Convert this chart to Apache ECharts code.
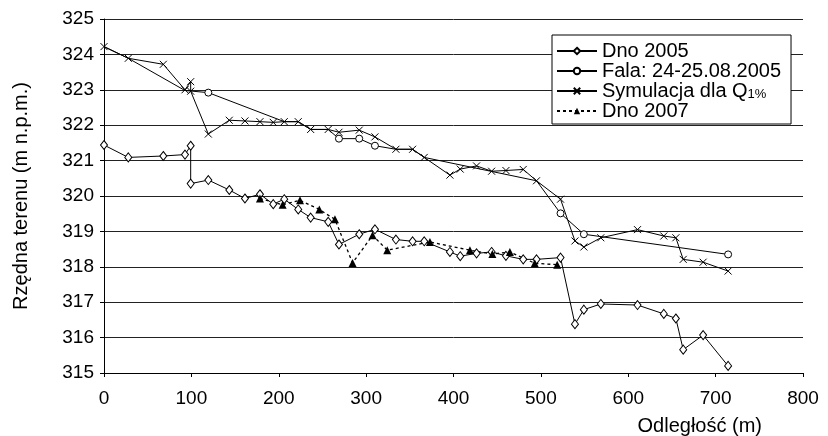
<!DOCTYPE html>
<html>
<head>
<meta charset="utf-8">
<script src="https://cdn.jsdelivr.net/npm/echarts@6/dist/echarts.min.js"></script>
<style>
  html, body { margin: 0; padding: 0; background: #fff; }
  #chart { width: 828px; height: 436px; }
</style>
</head>
<body>
<div id="chart"></div>
<script>
document.addEventListener('DOMContentLoaded', function() {

    // survey stations (m) shared by the 2005 bed and the Q1% simulation
    const stations = [0, 27.8, 67.9, 92.7, 99.2, 99.2, 119.4, 143.4, 161.3, 178.5,
        193.7, 206.3, 222.3, 236.5, 256.6, 268.9, 292.1, 310.1, 334.1, 353.2,
        366.5, 395.9, 407.7, 426.4, 443.6, 460, 479.8, 495, 522.5, 539,
        549.2, 568.6, 610.6, 640.7, 654.5, 662.9, 685.7, 714.3];
    const dno2005 = [321.44, 321.09, 321.13, 321.17, 321.42, 320.35, 320.45, 320.17, 319.93, 320.05,
        319.77, 319.91, 319.62, 319.39, 319.27, 318.63, 318.92, 319.06, 318.77, 318.72,
        318.72, 318.42, 318.30, 318.38, 318.42, 318.31, 318.21, 318.21, 318.26, 316.38,
        316.79, 316.95, 316.92, 316.67, 316.54, 315.66, 316.07, 315.20];
    const symulacja = [324.22, 323.89, 323.72, 323.0, 323.23, 322.96, 321.75, 322.14, 322.12, 322.1,
        322.08, 322.1, 322.1, 321.88, 321.88, 321.8, 321.86, 321.67, 321.32, 321.32,
        321.09, 320.59, 320.76, 320.85, 320.7, 320.72, 320.75, 320.43, 319.91, 318.73,
        318.56, 318.82, 319.05, 318.87, 318.82, 318.21, 318.13, 317.88];

    // flood marks 24-25.08.2005 (1 = measured mark, 0 = taken from the profile)
    const falaX = [0, 27.8, 92.7, 119.4, 206.3, 222.3, 236.5, 256.6, 268.9, 292.1,
        310.1, 334.1, 353.2, 366.5, 495, 522.5, 549.2, 714.3];
    const falaY = [324.22, 323.89, 322.98, 322.92, 322.1, 322.1, 321.88, 321.88, 321.62, 321.62,
        321.42, 321.32, 321.32, 321.09, 320.43, 319.51, 318.92, 318.35];
    const falaMeasured = [0, 0, 0, 1, 0, 0, 0, 0, 1, 1, 1, 0, 0, 0, 0, 1, 1, 1];

    const dno2007X = [178.5, 204.4, 224.3, 246.4, 264.3, 284.5, 307.4, 324.2, 373, 418.8,
        444.5, 464.5, 493, 518.7];
    const dno2007Y = [319.93, 319.75, 319.88, 319.62, 319.34, 318.11, 318.89, 318.47, 318.70, 318.47,
        318.36, 318.42, 318.1, 318.06];

    const names = ['Dno 2005', 'Fala: 24-25.08.2005', 'Symulacja dla Q1%', 'Dno 2007'];
    const font = 'Liberation Sans, Arial, sans-serif';
    const crossPath = 'path://M0,0L10,10M10,0L0,10';

    const pairs = (xs, ys) => xs.map((x, i) => [x, ys[i]]);

    const chart = echarts.init(document.getElementById('chart'), null, { renderer: 'canvas' });

    chart.setOption({
        animation: false,
        backgroundColor: '#fff',
        grid: {
            left: 104,
            right: 25,
            top: 19,
            bottom: 63,
            outerBoundsMode: 'none'
        },
        legend: {
            orient: 'vertical',
            left: 552,
            top: 35,
            padding: [6, 10, 3, 4],
            itemGap: 0,
            itemWidth: 40,
            itemHeight: 8,
            backgroundColor: '#fff',
            borderColor: '#000',
            borderWidth: 1,
            borderRadius: 0,
            data: names,
            formatter: name => name === names[2] ? '{a|Symulacja dla Q}{b|1%}' : name,
            textStyle: {
                color: '#000',
                fontFamily: font,
                fontSize: 20,
                lineHeight: 20,
                rich: {
                    a: { fontFamily: font, fontSize: 20, color: '#000', lineHeight: 20 },
                    b: { fontFamily: font, fontSize: 13, color: '#000', padding: [7, 0, 0, 0] }
                }
            }
        },
        xAxis: {
            type: 'value',
            min: 0,
            max: 800,
            interval: 100,
            splitLine: { show: false },
            axisLine: { lineStyle: { color: '#000', width: 1 } },
            axisTick: { length: 4, lineStyle: { color: '#000' } },
            axisLabel: { color: '#000', fontFamily: font, fontSize: 19, margin: 16 },
            name: 'Odległość (m)',
            nameLocation: 'end',
            nameGap: -41,
            nameTextStyle: {
                color: '#000',
                fontFamily: font,
                fontSize: 20,
                align: 'right',
                verticalAlign: 'top',
                padding: [43, 0, 0, 0]
            }
        },
        yAxis: {
            type: 'value',
            min: 315,
            max: 325,
            interval: 1,
            splitLine: { lineStyle: { color: '#222', width: 1 } },
            axisLine: { show: true, lineStyle: { color: '#000', width: 1 } },
            axisTick: { show: true, length: 4, lineStyle: { color: '#000' } },
            axisLabel: { color: '#000', fontFamily: font, fontSize: 19, margin: 10 },
            name: 'Rzędna terenu (m n.p.m.)',
            nameLocation: 'middle',
            nameGap: 73,
            nameTextStyle: { color: '#000', fontFamily: font, fontSize: 20 }
        },
        series: [
            {
                name: names[0],
                type: 'line',
                data: pairs(stations, dno2005),
                symbol: 'diamond',
                symbolSize: [7, 9],
                itemStyle: { color: '#fff', borderColor: '#000', borderWidth: 1 },
                lineStyle: { color: '#000', width: 1 }
            },
            {
                name: names[1],
                type: 'line',
                data: falaX.map((x, i) => ({
                    value: [x, falaY[i]],
                    symbol: falaMeasured[i] ? 'circle' : 'none'
                })),
                symbol: 'circle',
                symbolSize: 7,
                itemStyle: { color: '#fff', borderColor: '#000', borderWidth: 1 },
                lineStyle: { color: '#000', width: 1 }
            },
            {
                name: names[2],
                type: 'line',
                data: pairs(stations, symulacja),
                symbol: crossPath,
                symbolSize: 7,
                itemStyle: { color: 'rgba(0,0,0,0)', borderColor: '#000', borderWidth: 1 },
                lineStyle: { color: '#000', width: 1 }
            },
            {
                name: names[3],
                type: 'line',
                data: pairs(dno2007X, dno2007Y),
                symbol: 'triangle',
                symbolSize: 8,
                itemStyle: { color: '#000', borderColor: '#000', borderWidth: 0 },
                lineStyle: { color: '#000', width: 1.3, type: [3, 3] }
            }
        ]
    });

});
</script>
</body>
</html>
